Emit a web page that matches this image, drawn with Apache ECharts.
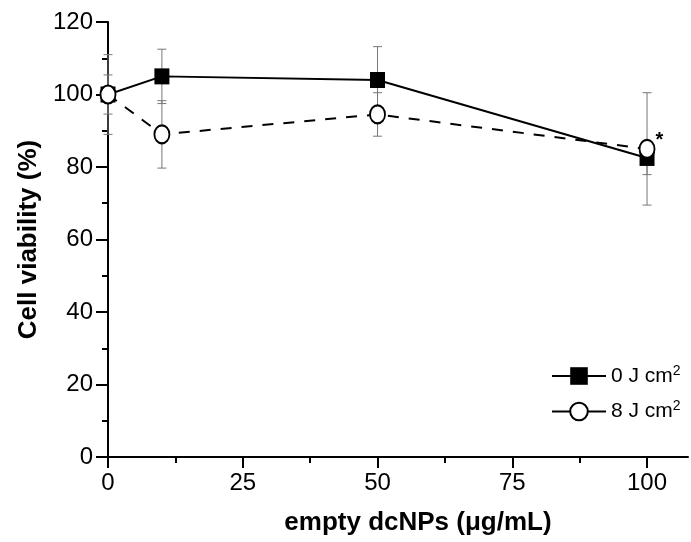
<!DOCTYPE html>
<html><head><meta charset="utf-8">
<script src="https://cdn.jsdelivr.net/npm/echarts@6/dist/echarts.min.js"></script>
<style>html,body{margin:0;padding:0;background:#fff}#c{width:691px;height:542px}</style>
</head><body><div id="c"></div>
<script>
const concentrations = [0, 10, 50, 100];
const seriesNames = ['0 J cm{sup|2}', '8 J cm{sup|2}'];
const viability0J = [100, 105, 104, 82.5];
const error0J = [11, 7.5, 9.2, 4.6];
const viability8J = [100, 89, 94.5, 85];
const error8J = [5.4, 9.3, 6, 15.5];
const xTicks = [0, 25, 50, 75, 100];
const xMinorTicks = [12.5, 37.5, 62.5, 87.5];

const font = '"Liberation Sans", Arial, sans-serif';
const chart = echarts.init(document.getElementById('c'));

function errData(vals, errs) {
  return concentrations.map((x, i) => [x, vals[i] - errs[i], vals[i] + errs[i]]);
}
function errSeries(vals, errs) {
  return {
    type: 'custom', z: 1, silent: true,
    data: errData(vals, errs),
    renderItem: function (params, api) {
      const x = api.value(0);
      const lo = api.coord([x, api.value(1)]);
      const hi = api.coord([x, api.value(2)]);
      const w = 4.5;
      const st = { stroke: '#777', lineWidth: 1 };
      return { type: 'group', children: [
        { type: 'line', shape: { x1: lo[0], y1: lo[1], x2: hi[0], y2: hi[1] }, style: st },
        { type: 'line', shape: { x1: lo[0] - w, y1: lo[1], x2: lo[0] + w, y2: lo[1] }, style: st },
        { type: 'line', shape: { x1: hi[0] - w, y1: hi[1], x2: hi[0] + w, y2: hi[1] }, style: st }
      ]};
    }
  };
}

const rich = { sup: { fontSize: 14, verticalAlign: 'top', padding: [0, 0, 10, 0], fontFamily: font, color: '#000' } };

chart.setOption({
  animation: false,
  backgroundColor: '#fff',
  grid: { left: 108, right: 3, top: 22, bottom: 85 },
  legend: {
    left: 546, top: 359, orient: 'vertical', itemGap: 13,
    itemWidth: 54, itemHeight: 22,
    textStyle: { fontSize: 21, fontFamily: font, color: '#000', rich: rich },
    data: [
      { name: seriesNames[0], lineStyle: { type: 'solid' } },
      { name: seriesNames[1], lineStyle: { type: 'solid' } }
    ]
  },
  xAxis: [{
    type: 'value', min: 0, max: 107.6,
    name: 'empty dcNPs (\u03bcg/mL)', nameLocation: 'middle', nameGap: 53,
    nameTextStyle: { fontSize: 26, fontWeight: 'bold', fontFamily: font, color: '#000', padding: [0, 0, 0, 40] },
    axisLine: { onZero: false, lineStyle: { color: '#000', width: 2 } },
    axisTick: { show: true, length: 11, lineStyle: { width: 2, color: '#000' }, customValues: xTicks },
    axisLabel: { fontSize: 24, fontFamily: font, color: '#000', margin: 14, customValues: xTicks },
    splitLine: { show: false }
  }, {
    type: 'value', min: 0, max: 107.6, position: 'bottom',
    axisLine: { show: false },
    axisTick: { show: true, length: 6, lineStyle: { width: 2, color: '#000' }, customValues: xMinorTicks },
    axisLabel: { show: false },
    splitLine: { show: false }
  }],
  yAxis: {
    type: 'value', min: 0, max: 120, interval: 20,
    name: 'Cell viability (%)', nameLocation: 'middle', nameGap: 61,
    nameTextStyle: { fontSize: 26, fontWeight: 'bold', fontFamily: font, color: '#000' },
    axisLine: { show: true, onZero: false, lineStyle: { color: '#000', width: 2 } },
    axisTick: { show: true, length: 12, lineStyle: { width: 2, color: '#000' } },
    minorTick: { show: true, splitNumber: 2, length: 6, lineStyle: { width: 2, color: '#000' } },
    axisLabel: { fontSize: 24, fontFamily: font, color: '#000', margin: 15 },
    splitLine: { show: false }
  },
  series: [
    errSeries(viability0J, error0J),
    errSeries(viability8J, error8J),
    {
      name: seriesNames[0], type: 'line', z: 3,
      data: concentrations.map((x, i) => [x, viability0J[i]]),
      symbol: 'rect', symbolSize: [15, 16],
      lineStyle: { color: '#000', width: 2 },
      itemStyle: { color: '#000', borderColor: '#000', borderWidth: 0 }
    },
    {
      name: seriesNames[1], type: 'line', z: 4,
      data: concentrations.map((x, i) => [x, viability8J[i]]),
      symbol: 'circle', symbolSize: [15, 18],
      lineStyle: { color: '#000', width: 2, type: [11, 10] },
      itemStyle: { color: '#fff', borderColor: '#000', borderWidth: 2 },
      label: {
        show: true, position: 'right', distance: 0, offset: [0, -8],
        fontSize: 20, fontWeight: 'bold', fontFamily: font, color: '#000',
        formatter: p => p.dataIndex === 3 ? '*' : ''
      }
    }
  ]
});
</script></body></html>
